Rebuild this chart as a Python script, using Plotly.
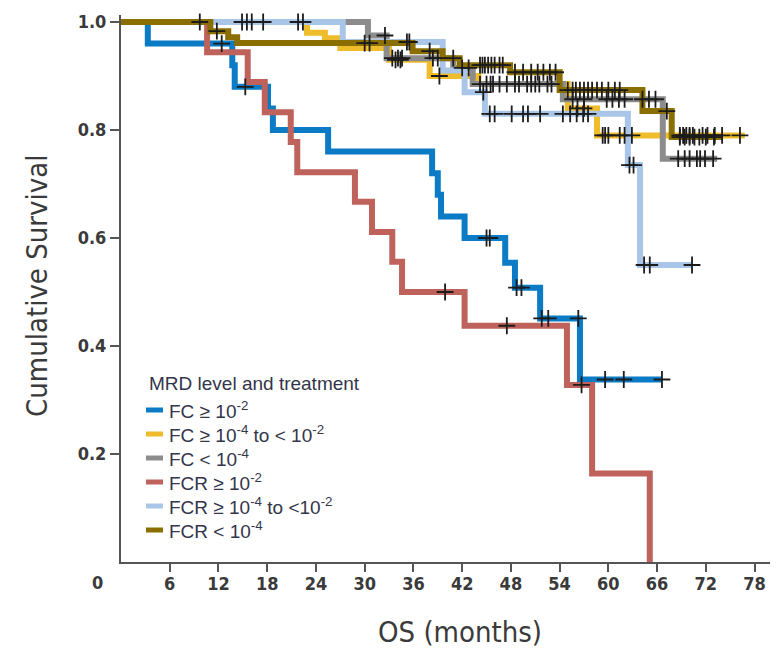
import plotly.graph_objects as go
from bisect import bisect_right

# ---- Axis ticks ----
month_ticks = [6, 12, 18, 24, 30, 36, 42, 48, 54, 60, 66, 72, 78]
surv_ticks = [0.2, 0.4, 0.6, 0.8, 1.0]
surv_ticktext = ["0.2", "0.4", "0.6", "0.8", "1.0"]

# ---- Kaplan-Meier estimates: event times (months), survival after each event,
# ---- last follow-up time and censoring times for each group ----

# FC, MRD >= 10^-2
fc_hi_t = [0, 3.3, 13.7, 14.0, 18.1, 18.7, 25.5, 38.3, 39.0, 39.4, 42.3, 47.3, 48.5, 51.6, 56.5]
fc_hi_s = [1.0, 0.96, 0.92, 0.88, 0.84, 0.80, 0.76, 0.72, 0.68, 0.64, 0.60, 0.554, 0.508, 0.451, 0.338]
fc_hi_end = 66.6
fc_hi_cens = [12.4, 15.3, 45.0, 45.4, 48.7, 49.3, 51.8, 52.6, 56.3, 59.6, 61.9, 66.6]

# FC, MRD >= 10^-4 to < 10^-2
fc_mid_t = [0, 22.9, 25.1, 27.0, 33.0, 38.0, 44.0, 55.0, 58.6]
fc_mid_s = [1.0, 0.98, 0.97, 0.952, 0.93, 0.90, 0.885, 0.84, 0.79]
fc_mid_end = 76.8
fc_mid_cens = [33.8, 34.4, 39.2, 45.5, 49.0, 50.0, 51.0, 53.0, 56.2, 57.0,
               59.3, 59.6, 60.0, 61.4, 62.0, 62.9, 68.8, 69.2, 69.6, 70.0, 70.4,
               71.6, 72.2, 73.1, 74.0, 76.2]

# FC, MRD < 10^-4
fc_lo_t = [0, 30.4, 32.7, 40.9, 43.3, 54.4, 66.7]
fc_lo_s = [1.0, 0.975, 0.933, 0.915, 0.885, 0.857, 0.747]
fc_lo_end = 73.4
fc_lo_cens = [32.5, 33.4, 34.1, 34.6, 38.4, 39.0, 42.0, 42.8, 44.2, 45.0, 45.8, 46.6,
              47.5, 48.5, 50.5, 51.5, 52.5, 55.6, 57.0, 59.8, 60.5, 61.3, 62.0,
              64.2, 65.0, 65.8, 68.6, 69.4, 70.0, 70.9, 71.3, 71.9, 72.9]

# FCR, MRD >= 10^-2
fcr_hi_t = [0, 10.6, 15.6, 17.7, 20.9, 21.7, 28.8, 30.9, 33.4, 34.6, 42.3, 54.9, 58.0, 65.1]
fcr_hi_s = [1.0, 0.944, 0.889, 0.833, 0.778, 0.722, 0.667, 0.611, 0.556, 0.50, 0.4375, 0.328, 0.164, 0.0]
fcr_hi_end = 65.1
fcr_hi_cens = [39.9, 47.5, 56.7]

# FCR, MRD >= 10^-4 to < 10^-2
fcr_mid_t = [0, 27.3, 39.6, 42.3, 44.8, 62.4, 63.9]
fcr_mid_s = [1.0, 0.963, 0.91, 0.87, 0.83, 0.735, 0.55]
fcr_mid_end = 70.3
fcr_mid_cens = [14.9, 15.5, 16.1, 17.5, 21.8, 22.4, 35.2, 35.5, 44.6, 45.4, 46.0,
                48.1, 49.5, 50.1, 51.6, 54.4, 55.3, 56.1, 56.9, 57.5, 62.6, 63.1,
                64.4, 65.1, 70.3]

# FCR, MRD < 10^-4
fcr_lo_t = [0, 11.0, 13.2, 14.3, 35.9, 39.6, 41.7, 47.9, 54.0, 64.2, 67.8]
fcr_lo_s = [1.0, 0.983, 0.972, 0.961, 0.946, 0.933, 0.92, 0.907, 0.874, 0.835, 0.787]
fcr_lo_end = 74.1
fcr_lo_cens = [9.7, 11.8, 30.0, 30.6, 38.0, 40.9, 44.2, 44.5, 44.8, 45.2, 45.6, 46.0,
               46.6, 47.0, 48.5, 49.5, 50.5, 51.3, 52.0, 52.8, 53.5, 55.0, 55.6, 56.0,
               56.5, 57.0, 57.5, 58.0, 58.6, 59.2, 60.0, 60.8, 61.4, 67.2, 68.8,
               69.4, 70.0, 70.6, 71.2, 72.0, 73.0]

# Group labels (legend order) and colours
legend_title = "MRD level and treatment"
labels = [
    "FC ≥ 10<sup>-2</sup>",
    "FC ≥ 10<sup>-4</sup> to &lt; 10<sup>-2</sup>",
    "FC &lt; 10<sup>-4</sup>",
    "FCR ≥ 10<sup>-2</sup>",
    "FCR ≥ 10<sup>-4</sup> to &lt;10<sup>-2</sup>",
    "FCR &lt; 10<sup>-4</sup>",
]
colors = ["#0a7bc4", "#efbd2b", "#8c8c8c", "#bf625c", "#a9c5e8", "#8a6f00"]

groups = [
    (fc_hi_t, fc_hi_s, fc_hi_end, fc_hi_cens),
    (fc_mid_t, fc_mid_s, fc_mid_end, fc_mid_cens),
    (fc_lo_t, fc_lo_s, fc_lo_end, fc_lo_cens),
    (fcr_hi_t, fcr_hi_s, fcr_hi_end, fcr_hi_cens),
    (fcr_mid_t, fcr_mid_s, fcr_mid_end, fcr_mid_cens),
    (fcr_lo_t, fcr_lo_s, fcr_lo_end, fcr_lo_cens),
]

# Drawing order of the curves (bottom to top)
draw_order = [1, 2, 4, 0, 3, 5]

# ---- Page geometry (pixels) ----
W, H = 776, 650
M_L, M_R, M_T, M_B = 121, 6, 15, 88
PLOT_W = W - M_L - M_R
PLOT_H = H - M_T - M_B


def paper_x(px):
    return (px - M_L) / PLOT_W


def paper_y(py):
    return (H - M_B - py) / PLOT_H


COND = "DejaVu Sans Condensed, Liberation Sans Narrow, DejaVu Sans, sans-serif"
TICK_FONT = dict(family=COND, size=18, color="#3a3a3a", weight="bold")
TITLE_FONT = dict(family=COND, size=29, color="#3a3a3a")
LEGEND_FONT = dict(family="Liberation Sans, Arial, sans-serif", size=19, color="#33354a")


def surv_at(times, surv, x):
    return surv[bisect_right(times, x) - 1]


fig = go.Figure()

# Step curves
for i in draw_order:
    t, s, end, _ = groups[i]
    fig.add_trace(go.Scatter(
        x=t + [end], y=s + [s[-1]], mode="lines", line_shape="hv",
        line=dict(color=colors[i], width=6), name=labels[i], showlegend=False,
        hoverinfo="skip",
    ))

# Censoring marks
for i in draw_order:
    t, s, end, cens = groups[i]
    fig.add_trace(go.Scatter(
        x=cens, y=[surv_at(t, s, c) for c in cens], mode="markers",
        marker=dict(symbol="cross-thin", size=12, line=dict(width=1.8, color="#1c1c1c")),
        showlegend=False, hoverinfo="skip", cliponaxis=False,
    ))

# Key: title, colour swatches and labels
annotations = [
    dict(text=legend_title, xref="paper", yref="paper", x=paper_x(147), y=paper_y(383),
         xanchor="left", yanchor="middle", showarrow=False, font=LEGEND_FONT),
]
shapes = []
for i, lab in enumerate(labels):
    yc = 410 + 24 * i
    shapes.append(dict(type="line", xref="paper", yref="paper",
                       x0=paper_x(146), x1=paper_x(163), y0=paper_y(yc), y1=paper_y(yc),
                       line=dict(color=colors[i], width=5)))
    annotations.append(dict(text=lab, xref="paper", yref="paper", x=paper_x(167),
                            y=paper_y(yc), xanchor="left", yanchor="middle",
                            showarrow=False, font=LEGEND_FONT))

# Origin label and axis titles
annotations += [
    dict(text="0", xref="paper", yref="paper", x=paper_x(97), y=paper_y(582),
         xanchor="center", yanchor="middle", showarrow=False, font=TICK_FONT),
    dict(text="OS (months)", xref="paper", yref="paper", x=paper_x(460), y=paper_y(632),
         xanchor="center", yanchor="middle", showarrow=False, font=TITLE_FONT),
    dict(text="Cumulative Survival", xref="paper", yref="paper", x=paper_x(37),
         y=paper_y(286), xanchor="center", yanchor="middle", textangle=-90,
         showarrow=False, font=TITLE_FONT),
]

fig.update_layout(
    width=W, height=H,
    margin=dict(l=M_L, r=M_R, t=M_T, b=M_B),
    plot_bgcolor="white", paper_bgcolor="white",
    showlegend=False,
    xaxis=dict(
        range=[0, 79.9], tickvals=month_ticks, ticks="outside", ticklen=8, tickwidth=2,
        tickcolor="#555555", showline=True, linecolor="#555555", linewidth=2,
        showgrid=False, zeroline=False, tickfont=TICK_FONT, fixedrange=True,
        ticklabelstandoff=-4,
    ),
    yaxis=dict(
        range=[0, 1.013], tickvals=surv_ticks, ticktext=surv_ticktext, ticks="outside",
        ticklen=9, tickwidth=2, tickcolor="#555555", showline=True, linecolor="#555555",
        linewidth=2, showgrid=False, zeroline=False, tickfont=TICK_FONT,
    ),
    shapes=shapes,
    annotations=annotations,
)

fig.write_html("out.html")
